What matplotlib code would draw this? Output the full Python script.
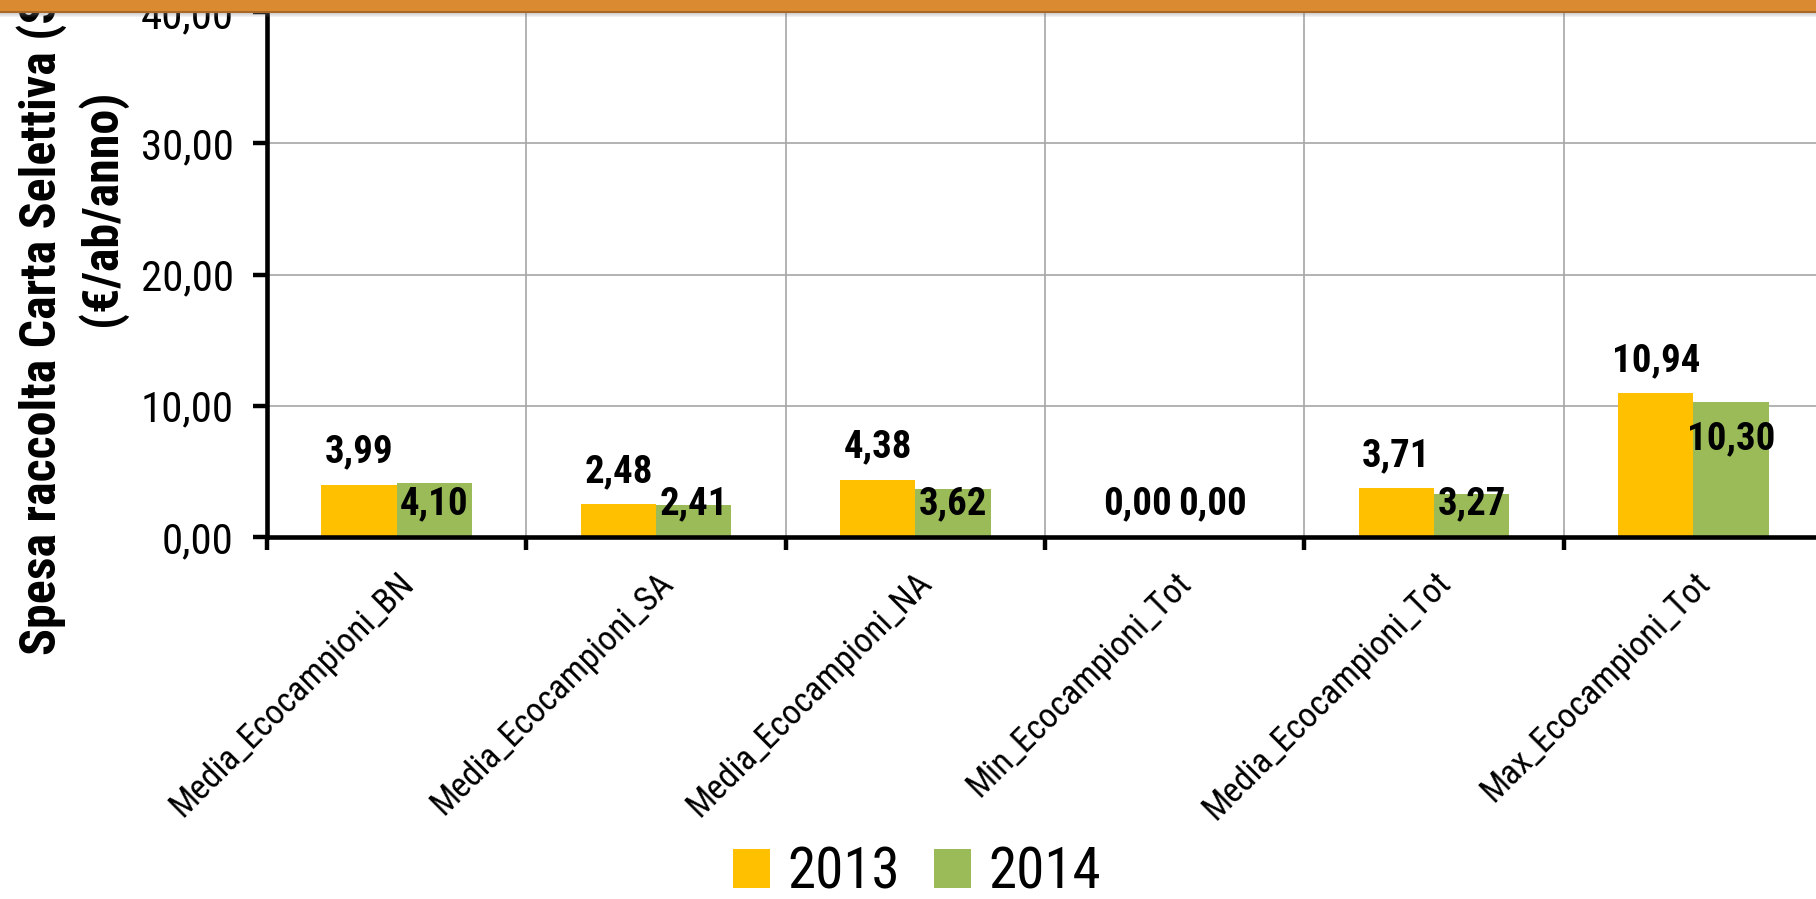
import numpy as np
import matplotlib
matplotlib.use('Agg')
import matplotlib.pyplot as plt
from matplotlib import font_manager
from matplotlib.font_manager import FontProperties
from matplotlib.patches import Rectangle

# cerco un font stretto tipo Arial Narrow
def cerca_font():
    lista = font_manager.fontManager.ttflist
    pref = ['Liberation Sans Narrow', 'Arial Narrow', 'Noto Sans', 'Roboto Condensed',
            'Roboto', 'Open Sans Condensed', 'Open Sans', 'DejaVu Sans']
    for nome in pref:
        ff = [f for f in lista if f.name == nome and f.style == 'normal']
        if 'Narrow' not in nome and 'Condensed' not in nome:
            ff = [f for f in ff if str(f.stretch) in ('condensed', '300')]
        reg = [f for f in ff if f.weight in (400, 'normal', 'regular')]
        bol = [f for f in ff if f.weight in (700, 'bold')]
        if reg and bol:
            return reg[0].fname, bol[0].fname
    return None, None

f_reg, f_bold = cerca_font()
if f_reg:
    FR = lambda s: FontProperties(fname=f_reg, size=s)
    FB = lambda s: FontProperties(fname=f_bold, size=s)
else:
    FR = lambda s: FontProperties(family='Liberation Sans', size=s)
    FB = lambda s: FontProperties(family='Liberation Sans', weight='bold', size=s)

# dati
categorie = ['Media_Ecocampioni_BN', 'Media_Ecocampioni_SA', 'Media_Ecocampioni_NA',
             'Min_Ecocampioni_Tot', 'Media_Ecocampioni_Tot', 'Max_Ecocampioni_Tot']
val_2013 = [3.99, 2.48, 4.38, 0.00, 3.71, 10.94]
val_2014 = [4.10, 2.41, 3.62, 0.00, 3.27, 10.30]
anni = ['2013', '2014']
yticks = [0, 10, 20, 30, 40]

col13 = '#FFC000'
col14 = '#9BBB59'

W, H = 1816, 899
fig = plt.figure(figsize=(W / 100, H / 100), dpi=100)
# area grafico: sinistra 267px, y=0 a 537px, y=40 a 12px
ax = fig.add_axes([267 / W, (H - 537) / H, 1556 / W, (537 - 12) / H])

x = np.arange(len(categorie))
bw = 0.29
b1 = ax.bar(x - bw / 2, val_2013, bw, color=col13, label=anni[0], zorder=3)
b2 = ax.bar(x + bw / 2, val_2014, bw, color=col14, label=anni[1], zorder=3)

ax.set_xlim(-0.5, len(categorie) - 0.5)
ax.set_ylim(0, 40)

def fmt(v):
    return ('%.2f' % v).replace('.', ',')

# etichette valori
for xi, v in zip(x, val_2013):
    ax.text(xi - bw / 2, v + 2.5, fmt(v), ha='center', va='center',
            fontproperties=FB(28), zorder=5)
for xi, v in zip(x, val_2014):
    ax.text(xi + bw / 2, max(2.5, v - 2.8), fmt(v), ha='center', va='center',
            fontproperties=FB(28), zorder=5)

# assi
ax.set_xticks(np.arange(-0.5, len(categorie), 1.0))
ax.set_xticklabels([])
ax.set_xticks(x, minor=True)
ax.set_xticklabels(categorie, minor=True, rotation=45, ha='right', va='top',
                   rotation_mode='anchor', fontproperties=FR(25))
ax.tick_params(axis='x', which='minor', length=0, pad=21)
ax.tick_params(axis='x', which='major', direction='out', length=9, width=3.2)
ax.set_yticks(yticks)
ax.set_yticklabels([fmt(t) for t in yticks], fontproperties=FR(31))
ax.tick_params(axis='y', direction='out', length=10, width=3.2, pad=14)

for s in ['top', 'right']:
    ax.spines[s].set_visible(False)
for s in ['left', 'bottom']:
    ax.spines[s].set_linewidth(3.3)
    ax.spines[s].set_zorder(6)

ax.grid(True, which='major', color='#A6A6A6', linewidth=1.2, zorder=0)
ax.set_axisbelow(True)

# titolo asse y su due righe
fig.text(42 / W, (H - 655) / H, 'Spesa raccolta Carta Selettiva (SCS) Ecocampioni',
         rotation=90, rotation_mode='anchor', ha='left', va='center',
         fontproperties=FB(36))
fig.text(102 / W, (H - 208) / H, '(€/ab/anno)', rotation=90,
         rotation_mode='anchor', ha='center', va='center',
         fontproperties=FB(36))

# legenda
fig.legend(handles=[b1, b2], labels=anni, loc='center', ncol=2,
           bbox_to_anchor=(0.505, (H - 873) / H), frameon=False, prop=FR(41),
           handlelength=0.65, handleheight=0.65, handletextpad=0.3,
           columnspacing=0.6, borderaxespad=0, borderpad=0.1)

# barra arancione in alto
fig.patches.append(Rectangle((0, (H - 11) / H), 1, 11 / H, transform=fig.transFigure,
                             facecolor='#DA8A30', edgecolor='none', zorder=20))
fig.patches.append(Rectangle((0, (H - 13) / H), 1, 2 / H, transform=fig.transFigure,
                             facecolor='#A9672A', edgecolor='none', zorder=20))
for i in range(4):
    fig.patches.append(Rectangle((0, (H - 14 - i) / H), 1, 1 / H, transform=fig.transFigure,
                                 facecolor='#808080', alpha=0.35 - 0.08 * i,
                                 edgecolor='none', zorder=20))

fig.savefig('out.png', dpi=100)
